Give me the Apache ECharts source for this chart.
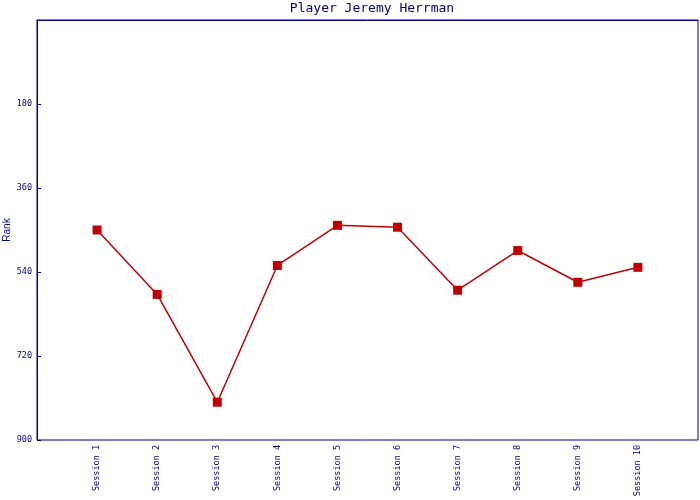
<!DOCTYPE html>
<html>
<head>
<meta charset="utf-8">
<script src="https://cdn.jsdelivr.net/npm/echarts@6/dist/echarts.min.js"></script>
<style>html,body{margin:0;padding:0;background:#fff}#c{width:700px;height:500px}</style>
</head>
<body>
<div id="c"></div>
<script>
const titleText = 'Player Jeremy Herrman';
const sessions = ['Session 1','Session 2','Session 3','Session 4','Session 5','Session 6','Session 7','Session 8','Session 9','Session 10'];
const ranks = [450, 588, 819, 526, 440, 444, 579, 494, 562, 530];
const yTicks = [0, 180, 360, 540, 720, 900];

const navy = '#000080';
const red = '#C00000';
const cats = [''].concat(sessions, ['']);
const seriesData = [null].concat(ranks, [null]);

const chart = echarts.init(document.getElementById('c'), null, {renderer: 'canvas'});
chart.setOption({
  animation: false,
  backgroundColor: '#fff',
  title: {
    text: titleText,
    left: 367, textAlign: 'center', top: -3,
    textStyle: {fontFamily: 'DejaVu Sans Mono', fontSize: 13, fontWeight: 'normal', color: navy}
  },
  grid: {left: 37, right: 2, top: 20, bottom: 60, containLabel: false, outerBoundsMode: 'none',
    show: true, borderColor: navy, borderWidth: 1, backgroundColor: 'transparent'},
  xAxis: {
    type: 'category', data: cats, boundaryGap: false,
    axisLine: {lineStyle: {color: navy, width: 1}},
    axisTick: {show: false},
    splitLine: {show: false},
    axisLabel: {interval: 0, rotate: 90, margin: 5, color: navy, fontFamily: 'DejaVu Sans Mono', fontSize: 8.5}
  },
  yAxis: {
    type: 'value', inverse: true,
    min: yTicks[0], max: yTicks[yTicks.length - 1], interval: yTicks[1] - yTicks[0],
    name: 'Rank', nameLocation: 'middle', nameGap: 25, nameMoveOverlap: false,
    nameTextStyle: {color: navy, fontFamily: 'Liberation Sans', fontSize: 10},
    axisLine: {show: true, lineStyle: {color: navy, width: 1}},
    axisTick: {show: true, inside: true, length: 4, lineStyle: {color: navy}},
    splitLine: {show: false},
    axisLabel: {showMinLabel: false, margin: 5, color: navy, fontFamily: 'DejaVu Sans Mono', fontSize: 8.5}
  },
  series: [{
    type: 'line', data: seriesData,
    symbol: 'rect', symbolSize: 9,
    lineStyle: {color: red, width: 1.5},
    itemStyle: {color: red},
    connectNulls: false
  }]
});
</script>
</body>
</html>
